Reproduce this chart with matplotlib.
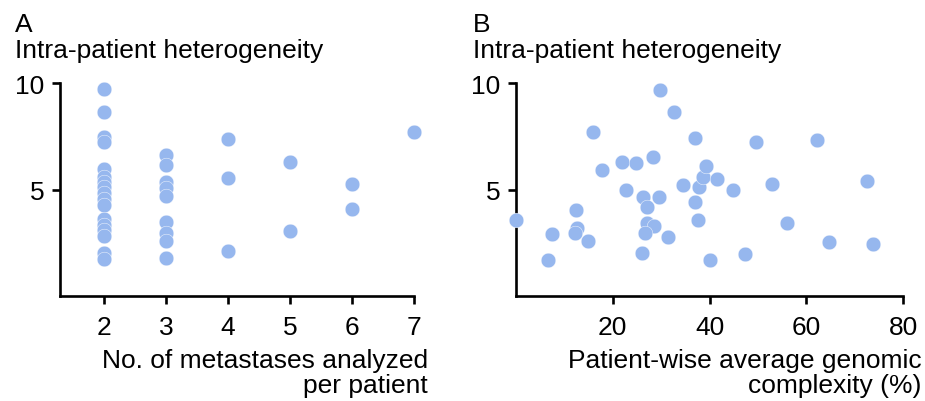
import matplotlib
matplotlib.use("Agg")
import matplotlib.pyplot as plt

plt.rcParams['font.family'] = ['Liberation Sans', 'DejaVu Sans']

# panel A: number of metastases vs heterogeneity
n_mets = [2] * 17 + [3] * 9 + [4] * 3 + [5] * 2 + [6] * 2 + [7]
het_a = [9.72, 8.66, 7.46, 7.23, 5.98, 5.6, 5.35, 5.1, 4.85, 4.55, 4.25,
         3.61, 3.35, 3.1, 2.8, 2.0, 1.74,
         6.6, 6.15, 5.36, 5.05, 4.69, 3.49, 2.98, 2.56, 1.78,
         7.37, 5.55, 2.12,
         6.29, 3.04,
         5.28, 4.1,
         7.71]

# panel B: genomic complexity vs heterogeneity
complexity = [0.1, 7.4, 6.7, 12.5, 12.7, 12.2, 14.8, 15.9, 17.7, 22.0,
              22.7, 24.8, 28.3, 26.3, 27.1, 27.0, 28.5, 26.7, 26.1, 29.6,
              29.8, 31.4, 32.7, 34.5, 37.0, 37.0, 37.7, 37.9, 38.7, 39.3,
              41.6, 40.2, 44.9, 47.3, 49.6, 52.9, 56.1, 62.2, 64.6, 72.5, 73.9]
het_b = [3.55, 2.9, 1.7, 4.03, 3.21, 2.98, 2.56, 7.68, 5.9, 6.28,
         4.97, 6.25, 6.53, 4.66, 4.17, 3.44, 3.29, 2.98, 2.04, 4.66,
         9.67, 2.77, 8.63, 5.23, 7.41, 4.41, 3.55, 5.13, 5.6, 6.12,
         5.5, 1.68, 4.97, 1.96, 7.21, 5.28, 3.44, 7.34, 2.54, 5.42, 2.43]

dot_color = '#96B7EE'
fs = 19

fig = plt.figure(figsize=(9.25, 4.02), dpi=100)
axA = fig.add_axes([60 / 925, 105 / 402, 354 / 925, 213 / 402])
axB = fig.add_axes([516 / 925, 105 / 402, 387 / 925, 213 / 402])

for ax, xs, ys in [(axA, n_mets, het_a), (axB, complexity, het_b)]:
    ax.scatter(xs, ys, s=112, color=dot_color, edgecolors='white',
               linewidths=0.3, clip_on=False, zorder=3)
    ax.set_ylim(0, 10)
    ax.set_yticks([5, 10])
    for side in ['top', 'right']:
        ax.spines[side].set_visible(False)
    for side in ['left', 'bottom']:
        ax.spines[side].set_linewidth(1.9)
    ax.tick_params(axis='both', length=6, width=1.9, labelsize=fs)
    ax.tick_params(axis='y', pad=5)
    ax.tick_params(axis='x', pad=8)

axA.set_xlim(1.29, 7)
axA.set_xticks([2, 3, 4, 5, 6, 7])
axA.set_xlabel('No. of metastases analyzed\nper patient', fontsize=fs,
               ha='right', multialignment='right', linespacing=1.05)
axA.xaxis.set_label_coords(1.04, -0.245)

axB.set_xlim(0, 80)
axB.set_xticks([20, 40, 60, 80])
axB.set_xlabel('Patient-wise average genomic\ncomplexity (%)', fontsize=fs,
               ha='right', multialignment='right', linespacing=1.05)
axB.xaxis.set_label_coords(1.047, -0.245)

# panel letters and titles
fig.text(15 / 925, 0.921, 'A', fontsize=fs, va='baseline')
fig.text(15 / 925, 0.855, 'Intra-patient heterogeneity', fontsize=fs, va='baseline')
fig.text(473 / 925, 0.921, 'B', fontsize=fs, va='baseline')
fig.text(473 / 925, 0.855, 'Intra-patient heterogeneity', fontsize=fs, va='baseline')

fig.savefig('out.png', dpi=100)
